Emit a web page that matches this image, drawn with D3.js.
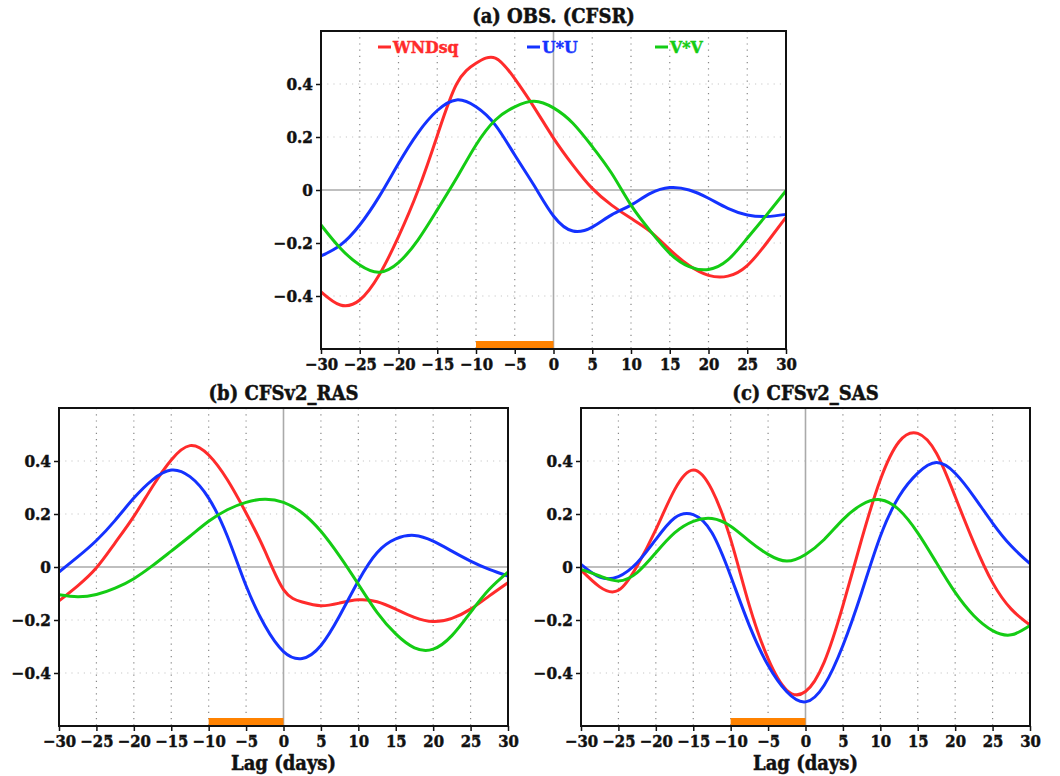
<!DOCTYPE html>
<html>
<head>
<meta charset="utf-8">
<script src="https://cdn.jsdelivr.net/npm/d3@7"></script>
<style>
    body { margin: 0; background: #fff; }
    text { font-family: "DejaVu Serif", serif; font-weight: bold; font-stretch: condensed; }
</style>
</head>
<body>
<svg id="chart" width="1060" height="776"></svg>
<script>
// lag (days) of every sample
var lags = [-30, -27.5, -25, -22.5, -20, -17.5, -15, -12.5, -10, -7.5, -5, -2.5, 0,
            2.5, 5, 7.5, 10, 12.5, 15, 17.5, 20, 22.5, 25, 27.5, 30];

// (a) OBS. (CFSR)
var obsWnd = [-0.384, -0.434, -0.415, -0.321, -0.176, -0.003, 0.205, 0.40, 0.478, 0.498, 0.42, 0.312, 0.196,
              0.094, 0.006, -0.057, -0.107, -0.157, -0.225, -0.285, -0.322, -0.325, -0.285, -0.20, -0.103];
var obsUU = [-0.249, -0.208, -0.132, -0.025, 0.10, 0.215, 0.30, 0.34, 0.314, 0.245, 0.132, 0.017, -0.098,
             -0.155, -0.14, -0.094, -0.057, -0.013, 0.009, 0.0, -0.031, -0.069, -0.094, -0.10, -0.092];
var obsVV = [-0.132, -0.22, -0.283, -0.31, -0.274, -0.189, -0.075, 0.045, 0.17, 0.264, 0.314, 0.335, 0.31,
             0.252, 0.164, 0.063, -0.057, -0.155, -0.239, -0.289, -0.30, -0.264, -0.182, -0.094, -0.003];

// (b) CFSv2_RAS
var rasWnd = [-0.128, -0.071, -0.003, 0.091, 0.191, 0.304, 0.404, 0.458, 0.4225, 0.329, 0.204, 0.062, -0.085,
              -0.132, -0.146, -0.136, -0.124, -0.131, -0.159, -0.19, -0.206, -0.194, -0.159, -0.109, -0.059];
var rasUU = [-0.019, 0.038, 0.10, 0.176, 0.26, 0.329, 0.366, 0.341, 0.26, 0.116, -0.071, -0.221, -0.319,
             -0.345, -0.296, -0.184, -0.0525, 0.054, 0.106, 0.119, 0.0975, 0.06, 0.0225, -0.009, -0.034];
var rasVV = [-0.105, -0.1125, -0.104, -0.08, -0.044, 0.005, 0.06, 0.116, 0.1725, 0.216, 0.244, 0.256, 0.244,
             0.204, 0.135, 0.041, -0.065, -0.171, -0.2525, -0.305, -0.31, -0.259, -0.171, -0.084, -0.019];

// (c) CFSv2_SAS
var sasWnd = [-0.011, -0.075, -0.088, 0.004, 0.141, 0.291, 0.366, 0.291, 0.104, -0.146, -0.346, -0.465, -0.47,
              -0.359, -0.146, 0.104, 0.329, 0.4725, 0.504, 0.429, 0.266, 0.091, -0.059, -0.159, -0.219];
var sasUU = [0.01, -0.038, -0.036, 0.016, 0.104, 0.185, 0.1975, 0.129, -0.034, -0.221, -0.371, -0.471, -0.509,
             -0.446, -0.296, -0.096, 0.116, 0.266, 0.354, 0.394, 0.354, 0.266, 0.166, 0.079, 0.0125];
var sasVV = [-0.009, -0.034, -0.0525, -0.021, 0.054, 0.129, 0.1725, 0.183, 0.154, 0.0975, 0.0475, 0.0225, 0.0475,
             0.104, 0.179, 0.235, 0.254, 0.216, 0.129, 0.016, -0.096, -0.184, -0.24, -0.256, -0.221];

var seriesNames = ["WNDsq", "U*U", "V*V"];
var seriesColors = ["#ff2b2b", "#1432ff", "#14cc14"];
var xTicks = [-30, -25, -20, -15, -10, -5, 0, 5, 10, 15, 20, 25, 30];
var yTicks = [-0.4, -0.2, 0, 0.2, 0.4];
var lagWindow = [-10, 0];

var svg = d3.select("#chart");

function fmt(v) {
    return d3.format(".1~f")(v).replace("-", "\u2212");
}

// heavy text, like the plotting package's bold font
function Heavy(sel, color, size) {
    sel.style("font-size", size + "px")
        .attr("fill", color)
        .attr("stroke", color)
        .attr("stroke-width", 0.45);
}

Panel = function (box, title, values, showLegend, showXLabel) {
    var x = d3.scaleLinear().domain([-30, 30]).range([box.x0, box.x1]);
    var y = d3.scaleLinear().domain([-0.6, 0.6]).range([box.y1, box.y0]);
    var g = svg.append("g");

    this.Draw = function () {
        // dotted grid
        g.selectAll("line.vgrid")
            .data(xTicks.filter(function (d) { return d != 0 && Math.abs(d) != 30; }))
            .enter()
            .append("line")
            .attr("x1", function (d) { return x(d); })
            .attr("x2", function (d) { return x(d); })
            .attr("y1", box.y0)
            .attr("y2", box.y1)
            .attr("stroke", "#888")
            .attr("stroke-width", 1.2)
            .attr("stroke-dasharray", "1.2,5");

        g.selectAll("line.hgrid")
            .data(yTicks.filter(function (d) { return d != 0; }))
            .enter()
            .append("line")
            .attr("x1", box.x0)
            .attr("x2", box.x1)
            .attr("y1", function (d) { return y(d); })
            .attr("y2", function (d) { return y(d); })
            .attr("stroke", "#c8c8c8")
            .attr("stroke-width", 1.2)
            .attr("stroke-dasharray", "1.2,5");

        // zero lines
        g.append("line")
            .attr("x1", box.x0).attr("x2", box.x1)
            .attr("y1", y(0)).attr("y2", y(0))
            .attr("stroke", "#aaa")
            .attr("stroke-width", 1.6);
        g.append("line")
            .attr("x1", x(0)).attr("x2", x(0))
            .attr("y1", box.y0).attr("y2", box.y1)
            .attr("stroke", "#aaa")
            .attr("stroke-width", 1.6);

        // lag window bar
        g.append("rect")
            .attr("x", x(lagWindow[0]))
            .attr("width", x(lagWindow[1]) - x(lagWindow[0]))
            .attr("y", box.y1 - 8)
            .attr("height", 7)
            .attr("fill", "#ff8200");

        // curves
        var line = d3.line()
            .x(function (d) { return x(d[0]); })
            .y(function (d) { return y(d[1]); })
            .curve(d3.curveNatural);

        g.selectAll("path.series")
            .data(values)
            .enter()
            .append("path")
            .attr("d", function (d) { return line(d3.zip(lags, d)); })
            .attr("fill", "none")
            .attr("stroke", function (d, i) { return seriesColors[i]; })
            .attr("stroke-width", 3)
            .attr("stroke-linejoin", "round");

        // frame
        g.append("rect")
            .attr("x", box.x0)
            .attr("y", box.y0)
            .attr("width", box.x1 - box.x0)
            .attr("height", box.y1 - box.y0)
            .attr("fill", "none")
            .attr("stroke", "#111")
            .attr("stroke-width", 2);

        // axes
        var xAxis = d3.axisBottom(x)
            .tickValues(xTicks)
            .tickSize(5)
            .tickPadding(3)
            .tickFormat(fmt);
        var yAxis = d3.axisLeft(y)
            .tickValues(yTicks)
            .tickSize(5)
            .tickPadding(3)
            .tickFormat(fmt);

        var gx = g.append("g")
            .attr("transform", "translate(0," + box.y1 + ")")
            .call(xAxis);
        var gy = g.append("g")
            .attr("transform", "translate(" + box.x0 + ",0)")
            .call(yAxis);

        [gx, gy].forEach(function (a) {
            a.select(".domain").remove();
            a.selectAll(".tick line").attr("stroke", "#111").attr("stroke-width", 1.5);
            a.selectAll(".tick text").style("font-family", null);
        });
        Heavy(gx.selectAll(".tick text").attr("dy", "0.8em"), "#111", 16.5);
        Heavy(gy.selectAll(".tick text"), "#111", 17);

        // title
        Heavy(g.append("text")
            .attr("x", (box.x0 + box.x1) / 2)
            .attr("y", box.y0 - 8)
            .attr("text-anchor", "middle")
            .text(title), "#111", 20);

        if (showXLabel) {
            Heavy(g.append("text")
                .attr("x", (box.x0 + box.x1) / 2)
                .attr("y", box.y1 + 44)
                .attr("text-anchor", "middle")
                .text("Lag (days)"), "#111", 20);
        }

        if (showLegend) {
            var legendX = [378, 527, 655];
            var item = g.selectAll("g.legend")
                .data(seriesNames)
                .enter()
                .append("g")
                .attr("transform", function (d, i) { return "translate(" + legendX[i] + "," + (box.y0 + 16) + ")"; });
            item.append("line")
                .attr("x1", 0).attr("x2", 13)
                .attr("y1", 0).attr("y2", 0)
                .attr("stroke", function (d, i) { return seriesColors[i]; })
                .attr("stroke-width", 3);
            item.append("text")
                .attr("x", 15)
                .attr("y", 6)
                .text(function (d) { return d; })
                .each(function (d, i) { Heavy(d3.select(this), seriesColors[i], 17.5); });
        }
    }
}

new Panel({ x0: 321, x1: 786, y0: 31, y1: 349 }, "(a) OBS. (CFSR)", [obsWnd, obsUU, obsVV], true, false).Draw();
new Panel({ x0: 59, x1: 508, y0: 408, y1: 726 }, "(b) CFSv2_RAS", [rasWnd, rasUU, rasVV], false, true).Draw();
new Panel({ x0: 581, x1: 1030, y0: 408, y1: 726 }, "(c) CFSv2_SAS", [sasWnd, sasUU, sasVV], false, true).Draw();
</script>
</body>
</html>
